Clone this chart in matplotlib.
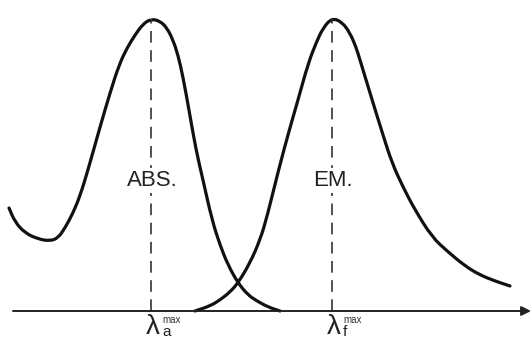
import matplotlib
matplotlib.use("Agg")
import matplotlib.pyplot as plt
from matplotlib.path import Path
from matplotlib.patches import PathPatch

plt.rcParams['font.family'] = ['Liberation Sans', 'DejaVu Sans']

# Absorption curve (x position, height above baseline)
abs_x = [9, 15, 25, 38, 50, 58, 65, 73, 80, 88, 100, 110, 119, 127, 135, 143, 151,
         160, 167, 173, 178, 183, 189, 196, 203, 212, 220, 228, 238, 248, 257, 268, 280]
abs_y = [103, 89, 78, 72, 70, 73, 83, 98, 115, 141, 184, 218, 246, 263, 276, 287, 292,
         290, 283, 271, 256, 234, 201, 161, 131, 91, 66, 46, 28, 16, 10, 4, 0]

# Emission curve
em_x = [195, 210, 220, 230, 238, 250, 260, 267, 278, 289, 298, 308, 316, 323, 332,
        342, 350, 356, 360, 367, 374, 383, 392, 403, 415, 432, 447, 465, 480, 495, 510]
em_y = [0, 5, 11, 19, 28, 48, 71, 94, 139, 180, 211, 247, 268, 283, 293,
        289, 278, 264, 251, 228, 205, 176, 148, 124, 101, 74, 60, 45, 36, 30, 25]

# Peak positions and labels
peak_x = [151, 332]
peak_h = [292, 293]
band_labels = ["ABS.", "EM."]
sub_labels = ["a", "f"]


def smooth_path(xs, ys):
    pts = list(zip(xs, ys))
    verts = [pts[0]]
    codes = [Path.MOVETO]
    mid = ((pts[0][0] + pts[1][0]) / 2, (pts[0][1] + pts[1][1]) / 2)
    verts.append(mid)
    codes.append(Path.LINETO)
    for i in range(1, len(pts) - 1):
        nxt = ((pts[i][0] + pts[i + 1][0]) / 2, (pts[i][1] + pts[i + 1][1]) / 2)
        verts += [pts[i], nxt]
        codes += [Path.CURVE3, Path.CURVE3]
    verts.append(pts[-1])
    codes.append(Path.LINETO)
    return Path(verts, codes)


fig = plt.figure(figsize=(5.31, 3.41), dpi=100)
ax = fig.add_axes([0, 0, 1, 1])
ax.set_xlim(0, 531)
ax.set_ylim(-30, 311)
ax.axis('off')

# baseline with arrow
ax.annotate("", xy=(531, 0), xytext=(13, 0),
            arrowprops=dict(arrowstyle='-|>', color='#222222', lw=1.4,
                            mutation_scale=14, shrinkA=0, shrinkB=0))

# curves
for xs, ys in [(abs_x, abs_y), (em_x, em_y)]:
    ax.add_patch(PathPatch(smooth_path(xs, ys), facecolor='none',
                           edgecolor='#111111', lw=2.3, capstyle='round',
                           joinstyle='round'))

for px, ph, lab, sub in zip(peak_x, peak_h, band_labels, sub_labels):
    ax.plot([px, px], [0, ph], color='#333333', lw=1.2, dashes=(7, 4.5))
    ax.text(px + 1, 131, lab, ha='center', va='center', fontsize=16,
            color='#222222',
            bbox=dict(facecolor='white', edgecolor='none', pad=1.5))
    ax.text(px - 5, -23, "λ", ha='left', va='baseline', fontsize=20,
            color='#222222')
    ax.text(px + 11, -12, "max", ha='left', va='baseline', fontsize=7,
            color='#333333')
    ax.text(px + 11, -25, sub, ha='left', va='baseline', fontsize=11,
            color='#222222')

fig.savefig("out.png", dpi=100)
